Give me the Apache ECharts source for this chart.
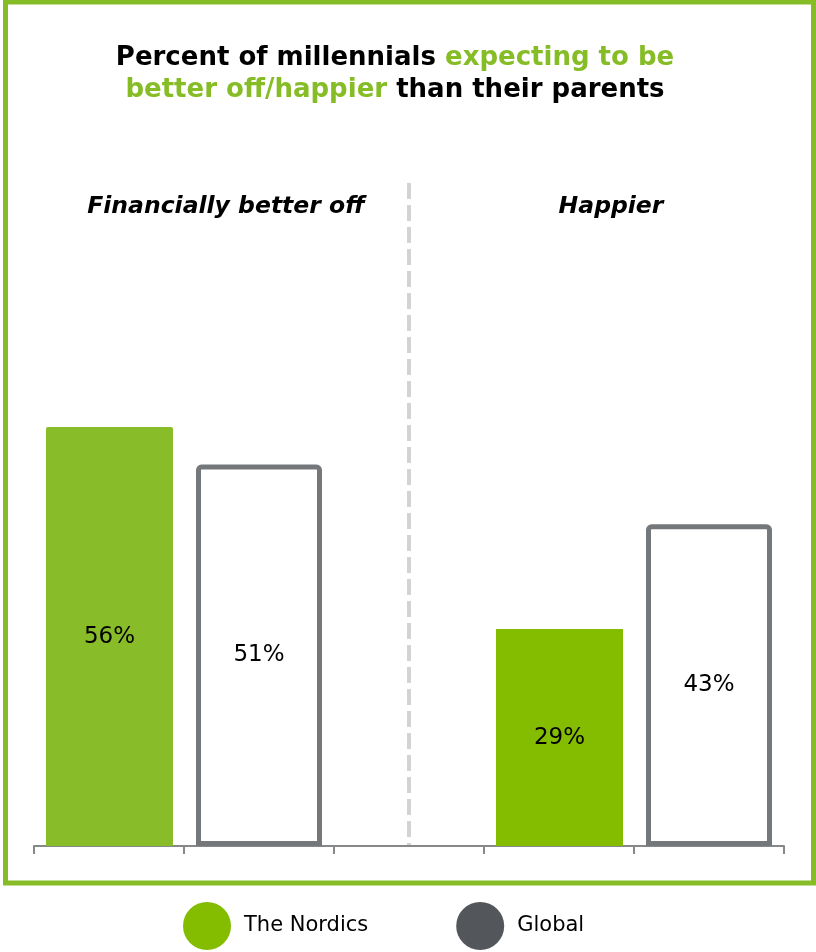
<!DOCTYPE html>
<html>
<head>
<meta charset="utf-8">
<style>
  html, body { margin: 0; padding: 0; background: #ffffff; }
  #chart { width: 816px; height: 952px; }
</style>
<script src="https://cdn.jsdelivr.net/npm/echarts@6/dist/echarts.min.js"></script>
</head>
<body>
<div id="chart"></div>
<script>
// Survey groups along the axis; the middle slot is an empty spacer between the two panels
const categories = ['Financially better off (Nordics)', 'Financially better off (Global)', '', 'Happier (Nordics)', 'Happier (Global)'];
const nordicsValues = [56, null, null, 29, null];
const globalValues = [null, 51, null, null, 43];
const panelTitles = ['Financially better off', 'Happier'];
const seriesNames = ['The Nordics', 'Global'];

const GREEN = '#84BC00';
const GREEN_SOFT = '#88BC28';
const GREY = '#75787B';
const DARK = '#53565A';
const FONT = '"DejaVu Sans", Verdana, sans-serif';

const chart = echarts.init(document.getElementById('chart'), null, { renderer: 'canvas' });

const labelStyle = {
  show: true,
  position: 'inside',
  color: '#000000',
  fontFamily: FONT,
  fontSize: 23,
  formatter: p => p.value + '%'
};

chart.setOption({
  backgroundColor: '#ffffff',
  animation: false,
  grid: { left: 34, right: 32, top: 98, bottom: 106 },
  xAxis: {
    type: 'category',
    data: categories,
    boundaryGap: true,
    axisLine: { show: true, lineStyle: { color: '#86888A', width: 2 } },
    axisTick: { show: true, interval: 0, length: 8, lineStyle: { color: '#86888A', width: 2 } },
    axisLabel: { show: false, interval: 0 },
    splitLine: { show: false }
  },
  yAxis: {
    type: 'value',
    min: 0,
    max: 100,
    show: false
  },
  legend: {
    left: 178,
    top: 897,
    icon: 'circle',
    itemWidth: 48,
    itemHeight: 48,
    itemGap: 88,
    textStyle: { fontFamily: FONT, fontSize: 21, color: '#000000', padding: [0, 0, 0, 8] },
    data: [
      { name: seriesNames[0], itemStyle: { color: GREEN, borderWidth: 0 } },
      { name: seriesNames[1], itemStyle: { color: DARK, borderWidth: 0 } }
    ]
  },
  series: [
    {
      name: seriesNames[0],
      type: 'bar',
      barWidth: 127,
      barGap: '-100%',
      itemStyle: { color: GREEN },
      label: labelStyle,
      data: nordicsValues.map((v, i) => i === 0 && v != null
        ? { value: v, itemStyle: { color: GREEN_SOFT, borderRadius: [2, 2, 0, 0] } }
        : v)
    },
    {
      name: seriesNames[1],
      type: 'bar',
      barWidth: 126,
      barGap: '-100%',
      itemStyle: { color: '#ffffff', borderColor: GREY, borderWidth: 5, borderRadius: [3, 3, 0, 0] },
      label: labelStyle,
      data: globalValues
    }
  ],
  graphic: [
    // green frame around the chart area
    {
      type: 'rect',
      silent: true,
      z: 10,
      shape: { x: 5.5, y: 2, width: 808, height: 881 },
      style: { fill: null, stroke: '#86BC25', lineWidth: 5 }
    },
    // dashed separator between the two panels
    {
      type: 'line',
      silent: true,
      shape: { x1: 409, y1: 183, x2: 409, y2: 845 },
      style: { stroke: '#D3D3D3', lineWidth: 4, lineDash: [16, 6] }
    },
    // headline
    {
      type: 'text',
      x: 395,
      y: 74,
      style: {
        text: '{b|Percent of millennials }{g|expecting to be}\n{g|better off/happier}{b| than their parents}',
        align: 'center',
        verticalAlign: 'middle',
        rich: {
          b: { fontFamily: FONT, fontWeight: 'bold', fontSize: 26, lineHeight: 32, fill: '#000000' },
          g: { fontFamily: FONT, fontWeight: 'bold', fontSize: 26, lineHeight: 32, fill: '#86BC25' }
        }
      }
    },
    // panel headings
    {
      type: 'text',
      x: 226,
      y: 207,
      style: {
        text: panelTitles[0],
        align: 'center',
        verticalAlign: 'middle',
        fontFamily: FONT, fontWeight: 'bold', fontStyle: 'italic', fontSize: 23.5,
        fill: '#000000'
      }
    },
    {
      type: 'text',
      x: 611,
      y: 207,
      style: {
        text: panelTitles[1],
        align: 'center',
        verticalAlign: 'middle',
        fontFamily: FONT, fontWeight: 'bold', fontStyle: 'italic', fontSize: 23.5,
        fill: '#000000'
      }
    }
  ]
});
</script>
</body>
</html>
